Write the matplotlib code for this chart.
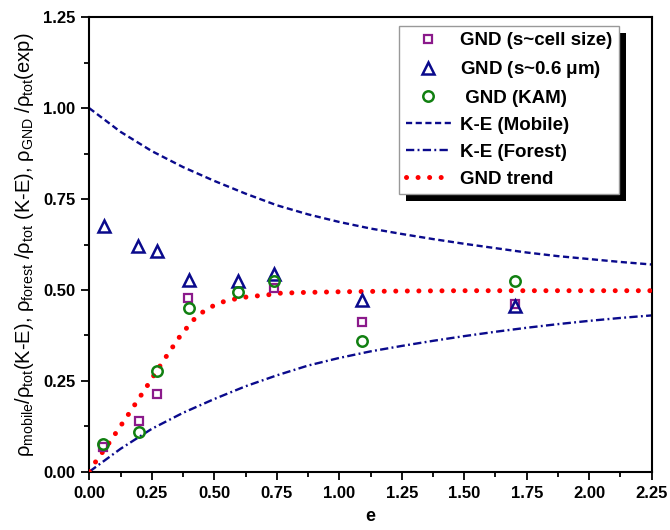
import numpy as np
import matplotlib
matplotlib.use('Agg')
import matplotlib.pyplot as plt
from matplotlib.patches import Rectangle
from matplotlib.transforms import IdentityTransform

plt.rcParams['font.family'] = ['Liberation Sans', 'DejaVu Sans']
plt.rcParams['mathtext.fontset'] = 'custom'
plt.rcParams['mathtext.rm'] = 'Liberation Sans'
plt.rcParams['mathtext.it'] = 'Liberation Sans:italic'
plt.rcParams['mathtext.bf'] = 'Liberation Sans:bold'

# measured points
e_cell = [0.056, 0.198, 0.270, 0.395, 0.739, 1.090, 1.704]
gnd_cell = [0.069, 0.140, 0.213, 0.479, 0.506, 0.413, 0.462]

e_06 = [0.059, 0.196, 0.272, 0.398, 0.596, 0.739, 1.090, 1.704]
gnd_06 = [0.677, 0.622, 0.607, 0.527, 0.524, 0.545, 0.472, 0.457]

e_kam = [0.056, 0.198, 0.271, 0.398, 0.596, 0.740, 1.090, 1.704]
gnd_kam = [0.075, 0.110, 0.278, 0.450, 0.495, 0.524, 0.360, 0.525]

# K-E model curves
e_ke = [0.0, 0.125, 0.25, 0.375, 0.5, 0.625, 0.75, 0.875, 1.0, 1.125,
        1.25, 1.375, 1.5, 1.625, 1.75, 1.875, 2.0, 2.125, 2.25]
ke_mobile = [1.000, 0.935, 0.882, 0.838, 0.800, 0.765, 0.733, 0.708, 0.687, 0.669,
             0.654, 0.640, 0.627, 0.615, 0.603, 0.593, 0.585, 0.577, 0.570]
ke_forest = [0.000, 0.063, 0.118, 0.162, 0.200, 0.235, 0.265, 0.292, 0.313, 0.331,
             0.346, 0.360, 0.373, 0.385, 0.396, 0.406, 0.415, 0.423, 0.430]

# GND trend line
e_trend = [0.0, 0.023, 0.076, 0.150, 0.223, 0.296, 0.368, 0.424, 0.461, 0.503, 0.546,
           0.590, 0.632, 0.676, 0.719, 0.763, 0.850, 1.0, 1.25, 1.5, 1.75, 2.0, 2.25]
gnd_trend = [0.0, 0.025, 0.076, 0.151, 0.227, 0.305, 0.378, 0.423, 0.443, 0.459, 0.470,
             0.476, 0.481, 0.484, 0.487, 0.491, 0.493, 0.495, 0.497, 0.498, 0.498, 0.498, 0.498]

navy = '#0a0a8c'

fig = plt.figure(figsize=(6.7, 5.3), dpi=100)
ax = fig.add_axes([0.1333, 0.110, 0.8394, 0.8573])

ax.plot(e_cell, gnd_cell, ls='none', marker='s', ms=6, mfc='none', mec='#8b1a8b',
        mew=1.6, label='GND (s~cell size)', zorder=4)
ax.plot(e_06, gnd_06, ls='none', marker='^', ms=9, mfc='none', mec=navy,
        mew=1.8, label=r'GND (s~0.6 $\mathbf{\mu}$m)', zorder=4)
ax.plot(e_kam, gnd_kam, ls='none', marker='o', ms=7.5, mfc='none', mec='#118011',
        mew=1.8, label=' GND (KAM)', zorder=4)
ax.plot(e_ke, ke_mobile, color=navy, lw=1.7, ls=(0, (2.6, 1.5)), label='K-E (Mobile)')
ax.plot(e_ke, ke_forest, color=navy, lw=1.7, ls=(0, (3.5, 1.4, 0.8, 1.4)), label='K-E (Forest)')
ax.plot(e_trend, gnd_trend, color='red', lw=3.6, ls=(0, (0.01, 2.3)),
        dash_capstyle='round', label='GND trend', zorder=3)

ax.set_xlim(0, 2.25)
ax.set_ylim(0, 1.25)
ax.set_xticks(np.arange(0, 2.26, 0.25))
ax.set_yticks(np.arange(0, 1.26, 0.25))
ax.set_xticks(np.arange(0.125, 2.25, 0.25), minor=True)
ax.set_yticks(np.arange(0.125, 1.25, 0.25), minor=True)
ax.xaxis.set_major_formatter(matplotlib.ticker.FormatStrFormatter('%.2f'))
ax.yaxis.set_major_formatter(matplotlib.ticker.FormatStrFormatter('%.2f'))
ax.tick_params(which='major', direction='out', length=6, width=1.3, labelsize=12, pad=4)
ax.tick_params(which='minor', direction='out', length=3.5, width=1.3)
for lab in ax.get_xticklabels() + ax.get_yticklabels():
    lab.set_fontweight('bold')
for sp in ax.spines.values():
    sp.set_linewidth(1.5)

ax.set_xlabel('e', fontsize=13, fontweight='bold', labelpad=5)
ax.set_ylabel(r'$\mathrm{\rho_{mobile}/\rho_{tot}}$(K-E), $\mathrm{\rho_{forest}}$ /$\mathrm{\rho_{tot}}$ (K-E), '
              r'$\mathrm{\rho_{GND}}$ /$\mathrm{\rho_{tot}}$(exp)', fontsize=14.5, labelpad=5)

leg = ax.legend(loc='upper right', bbox_to_anchor=(0.942, 0.9815), borderaxespad=0,
                prop={'weight': 'bold', 'size': 13.5}, fancybox=False, framealpha=1,
                edgecolor='#999999', handlelength=2.4, handletextpad=0.5,
                borderpad=0.35, labelspacing=0.52)
leg.get_frame().set_linewidth(1.0)
leg.set_zorder(6)

# black drop shadow behind the legend box
fig.canvas.draw()
bb = leg.get_window_extent()
shadow = Rectangle((bb.x0 + 7, bb.y0 - 7), bb.width, bb.height, transform=IdentityTransform(),
                   facecolor='black', edgecolor='none', zorder=5.5, clip_on=False)
ax.add_artist(shadow)

fig.savefig('out.png', dpi=100)
